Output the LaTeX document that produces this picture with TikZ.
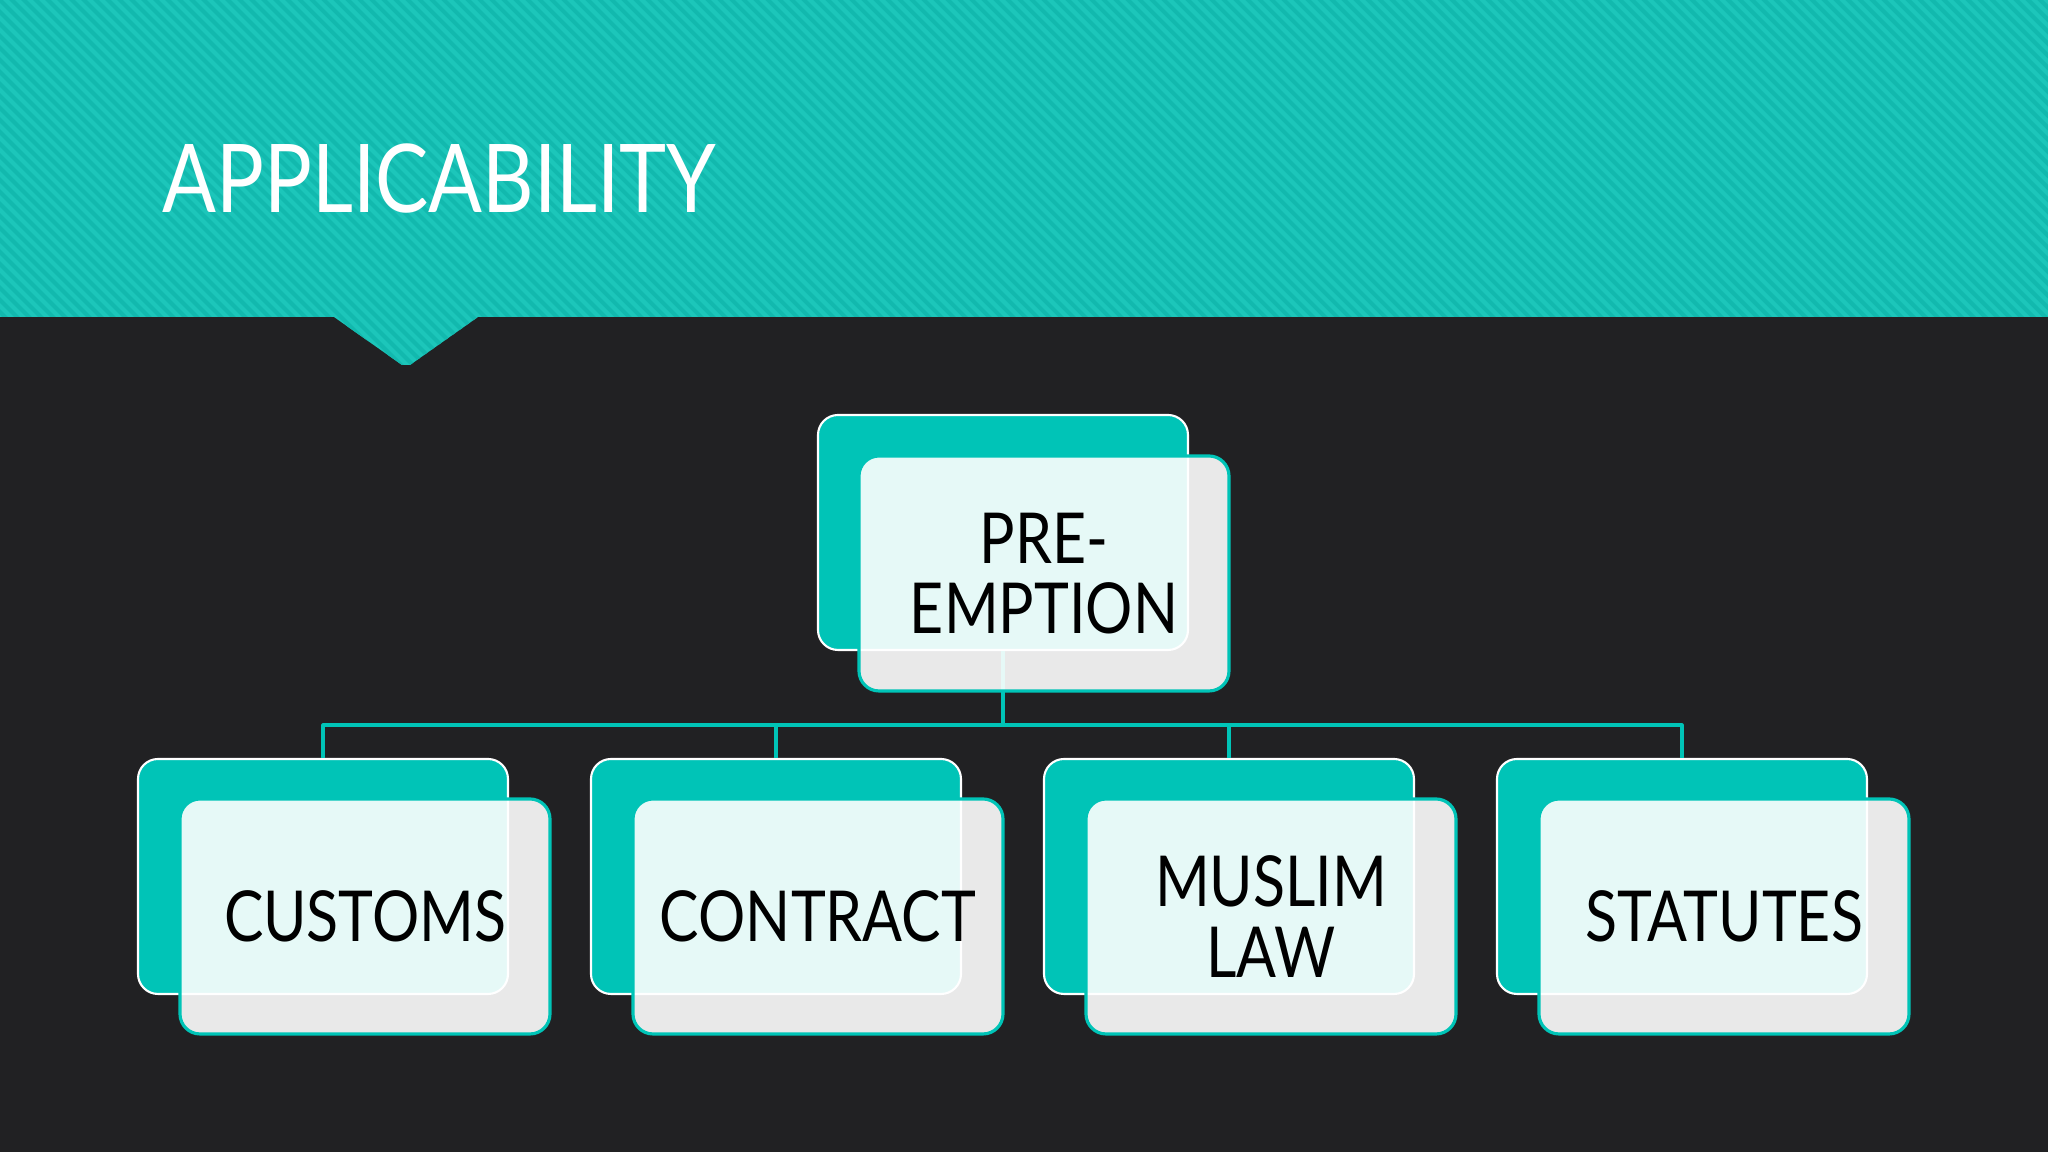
\documentclass[tikz,border=0pt]{standalone}
\usepackage{fontspec}
\setmainfont{Lato}[FakeStretch=0.84]
\usetikzlibrary{positioning,calc}
\definecolor{teal1}{HTML}{00C4B7}
\definecolor{bandteal}{HTML}{1CC6BA}
\definecolor{stripe}{HTML}{12B9AE}
\definecolor{darkbg}{HTML}{212123}
\begin{document}
\begin{tikzpicture}[line cap=round, line join=round, font=\fontsize{20}{20}\selectfont]
	\tikzset{back/.style={draw=white, line width=0.6pt, fill=teal1, rounded corners=0.2cm, minimum width=3.70cm, minimum height=2.35cm},
		front/.style={draw=teal1, line width=0.9pt, fill=white, fill opacity=0.9, text opacity=1, rounded corners=0.2cm, minimum width=3.70cm, minimum height=2.35cm, align=center, text=black},
		link/.style={draw=teal1, line width=0.9pt, line cap=butt}}
	\useasboundingbox (0,0) rectangle (20.48,11.52);
	\fill[darkbg] (0,0) rectangle (20.48,11.52);
	% header band with notch
	\begin{scope}
		\clip (0,11.52) -- (20.48,11.52) -- (20.48,8.35) -- (4.78,8.35) -- (4.10,7.87) -- (4.02,7.87) -- (3.34,8.35) -- (0,8.35) -- cycle;
		\fill[bandteal] (0,7.8) rectangle (20.48,11.52);
		\foreach \x in {-3.8,-3.68,...,20.6}
			\draw[stripe, line width=0.04cm] (\x,11.6) -- ++(3.9,-3.9);
	\end{scope}
	\node[anchor=base west, text=white, font=\fontsize{27}{32}\selectfont] (title) at (1.50,9.39) {APPLICABILITY};
	% chart
	\node[back] (pre-back) at (10.03,6.195) {};
	\node[back] (cust-back) at (3.23,2.755) {};
	\node[back] (cont-back) at (7.76,2.755) {};
	\node[back] (mus-back) at (12.29,2.755) {};
	\node[back] (stat-back) at (16.82,2.755) {};
	\draw[link] (pre-back.south) -- ++(0,-0.74) coordinate (bus);
	\draw[link] (bus) -| (cust-back.north);
	\draw[link] (bus) -| (cont-back.north);
	\draw[link] (bus) -| (mus-back.north);
	\draw[link] (bus) -| (stat-back.north);
	\node[front] (pre) at ([shift={(0.41,-0.41)}]pre-back.center) {PRE-\\EMPTION};
	\node[front] (cust) at ([shift={(0.42,-0.40)}]cust-back.center) {CUSTOMS};
	\node[front] (cont) at ([shift={(0.42,-0.40)}]cont-back.center) {CONTRACT};
	\node[front] (mus) at ([shift={(0.42,-0.40)}]mus-back.center) {MUSLIM\\LAW};
	\node[front] (stat) at ([shift={(0.42,-0.40)}]stat-back.center) {STATUTES};
\end{tikzpicture}
\end{document}
